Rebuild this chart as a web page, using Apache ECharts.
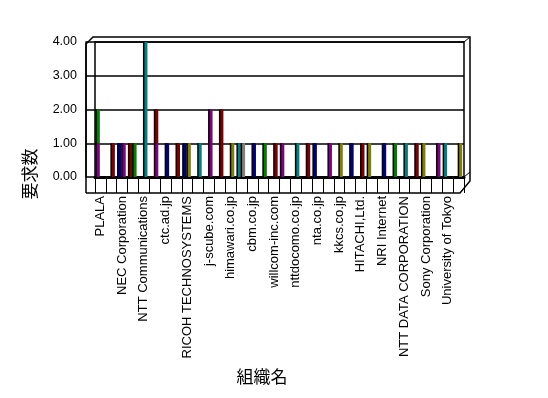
<!DOCTYPE html>
<html>
<head>
<meta charset="utf-8">
<script src="https://cdn.jsdelivr.net/npm/echarts@6/dist/echarts.min.js"></script>
<style>
  html, body { margin: 0; padding: 0; background: #fff; }
  #chart { width: 548px; height: 398px; }
</style>
</head>
<body>
<div id="chart"></div>
<script>
// 組織ごとの要求数 (ラベルは1つおきにしか表示されていない)
const categories = [
  'PLALA', '', 'NEC Corporation', '', 'NTT Communications', '', 'ctc.ad.jp', '',
  'RICOH TECHNOSYSTEMS', '', 'j-scube.com', '', 'himawari.co.jp', '', 'cbm.co.jp', '',
  'willcom-inc.com', '', 'nttdocomo.co.jp', '', 'nta.co.jp', '', 'kkcs.co.jp', '',
  'HITACHI,Ltd.', '', 'NRI Internet', '', 'NTT DATA CORPORATION', '', 'Sony Corporation', '',
  'University of Tokyo', ''
]
const yTickLabels = ['0.00', '1.00', '2.00', '3.00', '4.00']

// left column of each category
const slotAValues = [1, null, 1, 1, null, null, null, null, 1, null, null, null, null, 1, null, null,
  null, 1, null, null, 1, null, null, null, null, 1, null, null, null, null, 1, null, 1, null]
const slotAGroups = ['purple', null, 'navy', 'maroon', null, null, null, null, 'navy', null, null, null, null, 'teal', null, null,
  null, 'purple', null, null, 'navy', null, null, null, null, 'olive', null, null, null, null, 'olive', null, 'teal', null]

// right column of each category
const slotBValues = [null, 1, 1, 1, 4, 1, 1, 1, 1, 1, 2, 2, 1, 1, 1, 1,
  1, null, 1, 1, null, 1, 1, 1, 1, null, 1, 1, 1, 1, null, 1, null, 1]
const slotBGroups = [null, 'maroon', 'purple', 'green', 'teal', 'purple', 'navy', 'maroon', 'olive', 'teal', 'purple', 'maroon', 'olive', 'gray', 'navy', 'green',
  'maroon', null, 'teal', 'maroon', null, 'purple', 'olive', 'navy', 'maroon', null, 'navy', 'green', 'teal', 'maroon', null, 'purple', null, 'olive']

// stacked on top
const topAValues = [1, null, null, null, null, null, null, null, null, null, null, null, null, null, null, null,
  null, null, null, null, null, null, null, null, null, null, null, null, null, null, null, null, null, null]
const topAGroups = ['green']
const topBValues = [null, null, null, null, null, 1, null, null, null, null, null, null, null, null, null, null,
  null, null, null, null, null, null, null, null, null, null, null, null, null, null, null, null, null, null]
const topBGroups = [null, null, null, null, null, 'maroon']

const palette = {
  purple: '#800080',
  maroon: '#800000',
  navy: '#000080',
  green: '#008000',
  teal: '#008080',
  olive: '#808000',
  gray: '#808080'
}

const toData = (values, groups) => values.map((v, i) => {
  if (v == null) return null
  return { value: v, itemStyle: { color: palette[groups[i]] } }
})

const barStyle = {
  borderWidth: 0,
  shadowColor: '#000',
  shadowBlur: 0,
  shadowOffsetX: -1.5,
  shadowOffsetY: 0
}

const makeSeries = (name, stack, values, groups) => ({
  name: name,
  type: 'bar',
  stack: stack,
  barWidth: 3,
  barGap: '40%',
  data: toData(values, groups),
  itemStyle: barStyle,
  emphasis: { disabled: true },
  animation: false
})

const chart = echarts.init(document.getElementById('chart'))

const option = {
  backgroundColor: '#fff',
  animation: false,
  textStyle: { fontFamily: 'Liberation Sans, Arial, sans-serif', color: '#000' },
  grid: {
    left: 95,
    top: 42,
    width: 369,
    height: 135,
    show: true,
    borderColor: '#000',
    borderWidth: 1.5,
    backgroundColor: '#fff',
    containLabel: false,
    outerBoundsMode: 'none'
  },
  xAxis: [
    {
      type: 'category',
      data: categories,
      axisLine: { show: true, lineStyle: { color: '#000', width: 3 } },
      axisTick: { show: true, length: 16, alignWithLabel: false, lineStyle: { color: '#000', width: 1 } },
      axisLabel: {
        interval: 0,
        rotate: 90,
        margin: 19,
        fontSize: 13,
        color: '#000',
        fontFamily: 'Liberation Sans, Arial, sans-serif'
      },
      splitLine: { show: false }
    }
  ],
  yAxis: {
    type: 'value',
    min: 0,
    max: 4,
    interval: 1,
    offset: 9,
    axisLine: { show: true, lineStyle: { color: '#000', width: 1.5 } },
    axisTick: { show: true, inside: true, length: 9, lineStyle: { color: '#000', width: 1.5 } },
    axisLabel: {
      margin: 9,
      fontSize: 12.5,
      color: '#000',
      formatter: v => yTickLabels[v]
    },
    splitLine: { show: true, lineStyle: { color: '#000', width: 1.5 } }
  },
  graphic: [
    // 3D枠
    {
      type: 'polyline',
      silent: true,
      shape: { points: [[86, 193], [86, 44], [93, 37], [470, 37], [470, 181], [460, 193], [86, 193]] },
      style: { stroke: '#000', lineWidth: 1.5, fill: null }
    },
    {
      type: 'line',
      silent: true,
      shape: { x1: 464, y1: 42, x2: 470, y2: 37 },
      style: { stroke: '#000', lineWidth: 1 }
    },
    {
      type: 'line',
      silent: true,
      shape: { x1: 464, y1: 177, x2: 470, y2: 172 },
      style: { stroke: '#000', lineWidth: 1 }
    },
    {
      type: 'text',
      silent: true,
      x: 30,
      y: 174,
      rotation: Math.PI / 2,
      style: {
        text: '要求数',
        fontSize: 17,
        fontFamily: 'Noto Sans CJK JP',
        fill: '#000',
        align: 'center',
        verticalAlign: 'middle'
      }
    },
    {
      type: 'text',
      silent: true,
      x: 262,
      y: 377,
      style: {
        text: '組織名',
        fontSize: 17,
        fontFamily: 'Noto Sans CJK JP',
        fill: '#000',
        align: 'center',
        verticalAlign: 'middle'
      }
    }
  ],
  series: [
    makeSeries('A', 'a', slotAValues, slotAGroups),
    makeSeries('A2', 'a', topAValues, topAGroups),
    makeSeries('B', 'b', slotBValues, slotBGroups),
    makeSeries('B2', 'b', topBValues, topBGroups)
  ]
}

chart.setOption(option)
</script>
</body>
</html>
